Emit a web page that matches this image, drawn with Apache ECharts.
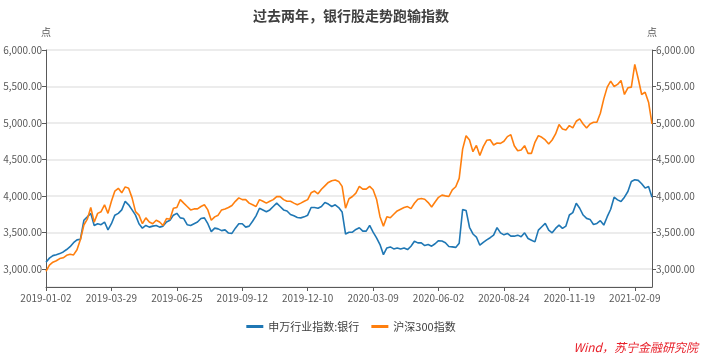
<!DOCTYPE html>
<html>
<head>
<meta charset="utf-8">
<script src="https://cdn.jsdelivr.net/npm/echarts@6/dist/echarts.min.js"></script>
<style>
html,body{margin:0;padding:0;background:#fff;}
#chart{width:702px;height:357px;}
</style>
</head>
<body>
<div id="chart"></div>
<script>
// Tick labels on the category (trading day) axis, one every 19 sampled points
const tickLabels = ['2019-01-02','2019-03-29','2019-06-25','2019-09-12','2019-12-10','2020-03-09','2020-06-02','2020-08-24','2020-11-19','2021-02-09'];
const seriesNames = ['申万行业指数:银行', '沪深300指数'];

// 申万行业指数:银行 (sampled every 3 trading days)
const bankIndex = [
3090,3146,3180,3193,3208,3231,3264,3302,3358,3396,
3405,3665,3712,3760,3594,3618,3604,3641,3533,3618,
3735,3760,3807,3925,3877,3807,3735,3618,3557,3594,
3571,3585,3594,3571,3585,3641,3665,3735,3760,3698,
3689,3604,3594,3618,3641,3689,3698,3618,3509,3557,
3547,3523,3533,3490,3485,3557,3618,3618,3571,3585,
3651,3726,3830,3807,3783,3807,3854,3900,3854,3807,
3793,3745,3726,3703,3698,3712,3735,3840,3840,3830,
3854,3910,3887,3854,3877,3840,3780,3476,3500,3502,
3539,3562,3516,3516,3594,3502,3424,3332,3194,3286,
3300,3272,3286,3272,3286,3263,3309,3378,3355,3355,
3318,3332,3310,3343,3385,3380,3357,3305,3300,3293,
3350,3811,3800,3569,3477,3435,3323,3362,3396,3426,
3461,3565,3493,3465,3484,3447,3447,3461,3438,3493,
3415,3392,3369,3530,3576,3622,3530,3493,3553,3599,
3553,3585,3737,3770,3899,3830,3737,3691,3677,3608,
3622,3659,3599,3714,3816,3982,3945,3922,3982,4060,
4198,4221,4212,4166,4106,4129,3980
];

// 沪深300指数 (sampled every 3 trading days)
const hs300 = [
2965,3050,3090,3110,3140,3150,3185,3200,3190,3260,
3400,3600,3680,3840,3640,3760,3783,3877,3760,3925,
4066,4104,4042,4123,4104,3972,3783,3735,3618,3698,
3641,3618,3665,3641,3594,3689,3680,3830,3840,3948,
3900,3854,3807,3821,3821,3854,3877,3807,3665,3712,
3735,3807,3821,3840,3868,3925,3972,3948,3948,3900,
3877,3854,3948,3925,3900,3925,3948,3990,3990,3948,
3925,3925,3900,3877,3900,3925,3948,4042,4066,4028,
4090,4137,4184,4208,4217,4198,4130,3830,3960,3991,
4037,4129,4092,4092,4129,4083,3954,3714,3585,3714,
3700,3747,3793,3816,3839,3853,3825,3899,3954,3963,
3954,3908,3848,3915,3980,4010,4000,3991,4083,4125,
4240,4640,4825,4767,4606,4691,4553,4675,4762,4770,
4698,4725,4720,4748,4812,4839,4688,4619,4628,4688,
4583,4583,4734,4826,4803,4766,4711,4766,4849,4977,
4917,4904,4963,4931,5023,5055,4986,4931,4986,5009,
5009,5133,5330,5491,5573,5500,5528,5583,5390,5482,
5491,5803,5606,5390,5422,5284,4986
];

const STEP = 19;
const categories = bankIndex.map((_, i) => (i % STEP === 0 ? tickLabels[i / STEP] : '') || ('d' + i));

const FONT = '"Noto Sans CJK SC", "Microsoft YaHei", sans-serif';
const fmt = v => Number(v).toLocaleString('en-US', {minimumFractionDigits: 2, maximumFractionDigits: 2});

function yAxis(pos, split) {
  return {
    type: 'value', position: pos, min: 2750, max: 6000, minInterval: 500, maxInterval: 500,
    name: '点', nameLocation: 'end', nameGap: 13,
    nameTextStyle: {color: '#595959', fontSize: 10, fontFamily: FONT},
    axisLine: {show: true, lineStyle: {color: '#595959', width: 1}},
    axisTick: {show: true, length: 4, lineStyle: {color: '#595959'}},
    axisLabel: {showMinLabel: false, formatter: fmt, color: '#595959', fontSize: 10, fontFamily: FONT, margin: 4},
    splitLine: {show: split, lineStyle: {color: '#e6e6e6', width: 1.5}}
  };
}

const chart = echarts.init(document.getElementById('chart'), null, {renderer: 'canvas'});
chart.setOption({
  animation: false,
  backgroundColor: '#fff',
  title: {
    text: '过去两年，银行股走势跑输指数', left: 'center', top: 4,
    textStyle: {fontSize: 14, fontWeight: 'bold', color: '#404040', fontFamily: FONT}
  },
  grid: {left: 46, right: 50, top: 50, bottom: 70},
  legend: {
    bottom: 20, left: 'center', itemWidth: 17, itemHeight: 3, icon: 'rect', itemGap: 12,
    textStyle: {fontSize: 11, color: '#404040', fontFamily: FONT},
    data: seriesNames
  },
  xAxis: {
    type: 'category', boundaryGap: false, data: categories,
    axisLine: {lineStyle: {color: '#595959'}},
    axisTick: {show: true, interval: STEP - 1, length: 4, lineStyle: {color: '#595959'}},
    axisLabel: {
      interval: STEP - 1, color: '#595959', fontSize: 10, fontFamily: FONT, margin: 6,
      formatter: v => (v.charAt(0) === 'd' ? '' : v)
    },
    splitLine: {show: false}
  },
  yAxis: [yAxis('left', true), yAxis('right', false)],
  series: [
    {name: seriesNames[0], type: 'line', data: bankIndex, showSymbol: false, symbol: 'none',
     lineStyle: {color: '#1f77b4', width: 1.6}, itemStyle: {color: '#1f77b4'}},
    {name: seriesNames[1], type: 'line', data: hs300, showSymbol: false, symbol: 'none',
     lineStyle: {color: '#ff7f0e', width: 1.6}, itemStyle: {color: '#ff7f0e'}}
  ],
  graphic: [{
    type: 'text', right: 4, bottom: 4,
    style: {text: 'Wind，苏宁金融研究院', fill: '#e8202a', fontSize: 12, fontStyle: 'italic', fontFamily: FONT}
  }]
});
</script>
</body>
</html>
